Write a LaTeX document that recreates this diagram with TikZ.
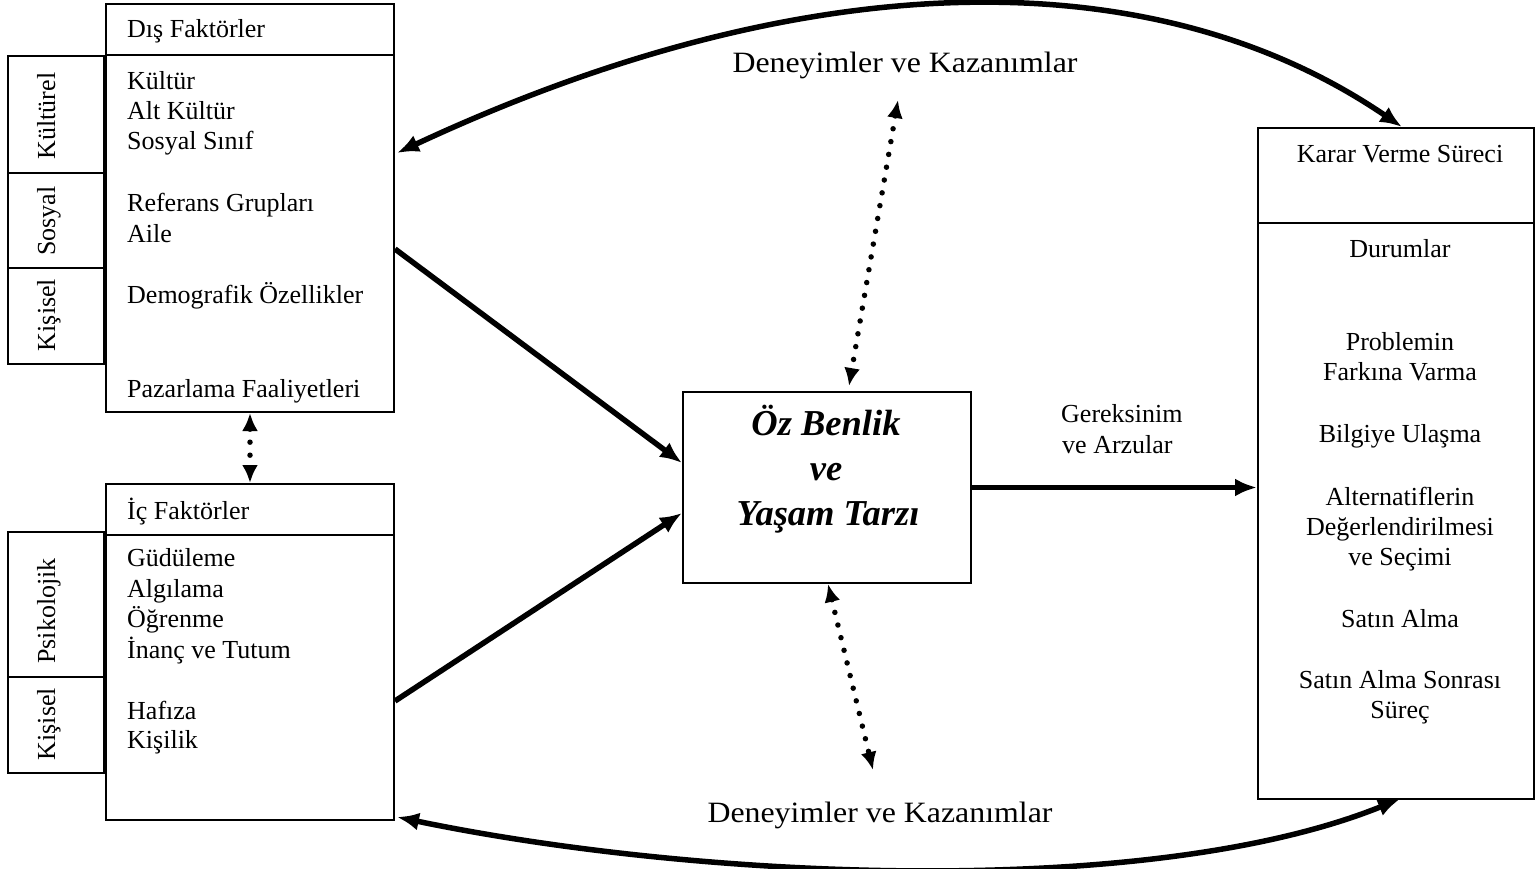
\documentclass[tikz,border=0pt]{standalone}
\usepackage{graphicx}
\usepackage{fontspec}
\setmainfont{Liberation Serif}
\usetikzlibrary{arrows.meta}
\begin{document}
\begin{tikzpicture}[x=1pt,y=-1pt,
  box/.style={draw,line width=2pt,inner sep=0pt,anchor=north west},
  tabbox/.style={draw,line width=2pt,inner sep=0pt,anchor=north east,minimum width=96pt},
  txt/.style={inner sep=0pt,font=\fontsize{26}{30}\selectfont},
  lt/.style={txt,anchor=base west},
  ct/.style={txt,anchor=base},
  vt/.style={txt,anchor=base,rotate=90},
  bigtxt/.style={inner sep=0pt,anchor=base,font=\fontsize{36.5}{45}\selectfont\bfseries\itshape},
  exptxt/.style={inner sep=0pt,anchor=base,font=\fontsize{29.5}{34}\selectfont},
  sep/.style={line width=2pt},
  heavy/.style={line width=5.5pt,-{Latex[length=22pt,width=18pt]}},
  heavyboth/.style={line width=5.5pt,{Latex[length=22pt,width=18pt]}-{Latex[length=22pt,width=18pt]}},
  dotline/.style={line width=5.5pt,line cap=round,dash pattern=on 0pt off 13pt,{Latex[length=18pt,width=16pt]}-{Latex[length=18pt,width=16pt]}}
]
\useasboundingbox (0,0) rectangle (1535,869);

% ---------- Dis Faktorler ----------
\node[box,minimum width=288pt,minimum height=408pt] (dis) at (105,3) {};
\draw[sep] ([yshift=-52pt]dis.north west) -- ([yshift=-52pt]dis.north east);
\node[tabbox,minimum height=117pt] (tk1) at (105,55) {};
\node[tabbox,minimum height=95pt] (tk2) at (105,172) {};
\node[tabbox,minimum height=96pt] (tk3) at (105,267) {};
\node[vt] (vk1) at (55,116) {Kültürel};
\node[vt] (vk2) at (55,221) {Sosyal};
\node[vt] (vk3) at (55,315) {Kişisel};
\node[lt] (dh) at (127,38) {Dış Faktörler};
\foreach \t/\y [count=\i] in {Kültür/90,Alt Kültür/120,Sosyal Sınıf/150,Referans Grupları/212,Aile/243,Demografik Özellikler/303,Pazarlama Faaliyetleri/397}
  \node[lt] (d\i) at (127,\y) {\t};

% ---------- Ic Faktorler ----------
\node[box,minimum width=288pt,minimum height=336pt] (ic) at (105,483) {};
\draw[sep] ([yshift=-52pt]ic.north west) -- ([yshift=-52pt]ic.north east);
\node[tabbox,minimum height=145pt] (tp1) at (105,531) {};
\node[tabbox,minimum height=96pt] (tp2) at (105,676) {};
\node[vt] (vp1) at (55,611) {Psikolojik};
\node[vt] (vp2) at (55,724) {Kişisel};
\node[lt] (ih) at (127,519) {İç Faktörler};
\foreach \t/\y [count=\i] in {Güdüleme/566,Algılama/597,Öğrenme/627,İnanç ve Tutum/658,Hafıza/719,Kişilik/748}
  \node[lt] (i\i) at (127,\y) {\t};

% ---------- Oz Benlik ----------
\node[box,minimum width=288pt,minimum height=191pt] (oz) at (682,391) {};
\node[bigtxt] (oz1) at (826,435) {Öz Benlik};
\node[bigtxt] (oz2) at (826,480) {ve};
\node[bigtxt] (oz3) at (828,525) {Yaşam Tarzı};

% ---------- Karar Verme Sureci ----------
\node[box,minimum width=276pt,minimum height=671pt] (karar) at (1257,127) {};
\draw[sep] ([yshift=-96pt]karar.north west) -- ([yshift=-96pt]karar.north east);
\foreach \t/\y [count=\i] in {Karar Verme Süreci/163,Durumlar/258,Problemin/350,Farkına Varma/380,Bilgiye Ulaşma/442,Alternatiflerin/505,Değerlendirilmesi/535,ve Seçimi/565,Satın Alma/627,Satın Alma Sonrası/688,Süreç/718}
  \node[ct] (k\i) at (1400,\y) {\t};

% ---------- labels ----------
\node[exptxt] (dtop) at (905,73) {\scalebox{1.08}[1]{Deneyimler ve Kazanımlar}};
\node[exptxt] (dbot) at (880,822) {\scalebox{1.08}[1]{Deneyimler ve Kazanımlar}};
\node[lt] (g1) at (1061,422) {Gereksinim};
\node[lt] (g2) at (1062,453) {ve Arzular};

% ---------- connectors ----------
\draw[heavy] ([yshift=-41pt]dis.east) -- ([yshift=24.5pt]oz.west);
\draw[heavy] ([yshift=-49pt]ic.east) -- ([yshift=-25.5pt]oz.west);
\draw[heavy] (oz.east) -- (oz.east -| karar.west);
\draw[heavyboth] ([xshift=2pt,yshift=55pt]dis.east) .. controls (800,-35) and (1150,-45) .. ([xshift=6pt]karar.north);
\draw[heavyboth] ([xshift=2pt,yshift=4pt]ic.south east) .. controls (700,880) and (1150,900) .. ([xshift=4pt,yshift=1pt]karar.south);

\coordinate (dtopend) at (898,100);
\coordinate (dbotend) at (873,770);
\draw[dotline] (dtopend) -- ([xshift=22pt,yshift=5pt]oz.north);
\draw[dotline] ([xshift=1pt]oz.south) -- (dbotend);
\draw[dotline] (dis.south) -- (ic.north);
\end{tikzpicture}
\end{document}
